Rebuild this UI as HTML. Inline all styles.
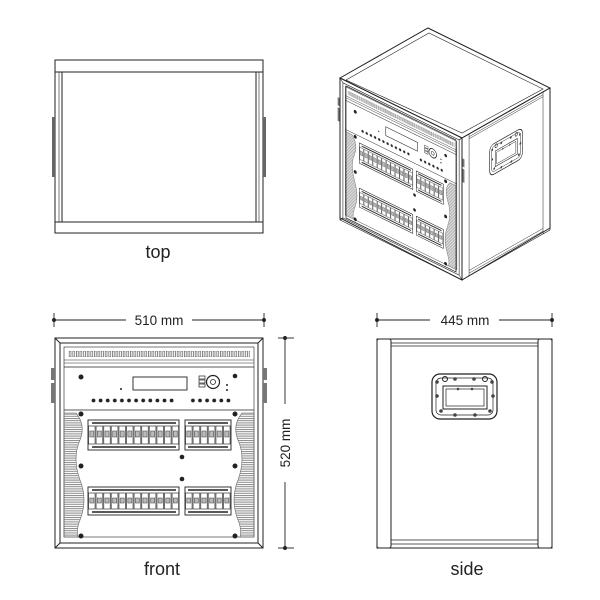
<!DOCTYPE html>
<html><head><meta charset="utf-8"><style>
html,body{margin:0;padding:0;background:#fff;}
svg{display:block;}
text{font-family:"Liberation Sans",sans-serif;fill:#222;}
</style></head><body>
<svg width="600" height="600" viewBox="0 0 600 600" xmlns="http://www.w3.org/2000/svg">
<defs>
 <pattern id="slot" x="0" y="351" width="3.6" height="10" patternUnits="userSpaceOnUse">
  <rect x="0.8" y="0" width="1.8" height="6" fill="none" stroke="#444" stroke-width="0.6"/>
 </pattern>
 <pattern id="dot" x="90" y="397" width="7.1" height="10" patternUnits="userSpaceOnUse">
  <circle cx="3.5" cy="3.5" r="1.9" fill="#222"/>
 </pattern>
 <pattern id="hatch" x="0" y="0" width="4" height="2.2" patternUnits="userSpaceOnUse">
  <rect x="0" y="0" width="4" height="1" fill="#888"/>
 </pattern>
 <pattern id="brkA" x="88" y="420" width="7.6" height="40" patternUnits="userSpaceOnUse">
  <rect x="0.5" y="6" width="6.6" height="18" fill="none" stroke="#333" stroke-width="0.7"/>
  <rect x="1.8" y="11" width="4" height="6" fill="#bbb" stroke="#333" stroke-width="0.5"/>
 </pattern>
 <pattern id="brkB" x="185" y="420" width="7.6" height="40" patternUnits="userSpaceOnUse">
  <rect x="0.5" y="6" width="6.6" height="18" fill="none" stroke="#333" stroke-width="0.7"/>
  <rect x="1.8" y="11" width="4" height="6" fill="#bbb" stroke="#333" stroke-width="0.5"/>
 </pattern>
 <pattern id="brkC" x="88" y="487" width="7.6" height="40" patternUnits="userSpaceOnUse">
  <rect x="0.5" y="6" width="6.6" height="16" fill="none" stroke="#333" stroke-width="0.7"/>
  <rect x="1.8" y="11" width="4" height="5" fill="#bbb" stroke="#333" stroke-width="0.5"/>
 </pattern>
 <pattern id="brkD" x="185" y="487" width="7.6" height="40" patternUnits="userSpaceOnUse">
  <rect x="0.5" y="6" width="6.6" height="16" fill="none" stroke="#333" stroke-width="0.7"/>
  <rect x="1.8" y="11" width="4" height="5" fill="#bbb" stroke="#333" stroke-width="0.5"/>
 </pattern>
 <g id="frontv" stroke="#222" fill="none" stroke-width="1">
  <rect x="55" y="338" width="208" height="210" fill="#fff"/>
  <rect x="60" y="343" width="198" height="200"/>
  <line x1="55" y1="338" x2="60" y2="343"/><line x1="263" y1="338" x2="258" y2="343"/>
  <line x1="55" y1="548" x2="60" y2="543"/><line x1="263" y1="548" x2="258" y2="543"/>
  <rect x="64" y="347" width="190" height="190" stroke-width="0.6"/>
  <rect x="68" y="351" width="182" height="6" fill="url(#slot)" stroke="none"/>
  <line x1="64" y1="360" x2="254" y2="360" stroke-width="0.6"/>
  <line x1="64" y1="363" x2="254" y2="363" stroke-width="0.6"/>
  <line x1="64" y1="367" x2="254" y2="367" stroke-width="0.8"/>
  <line x1="64" y1="410" x2="254" y2="410" stroke-width="0.8"/>
  <rect x="133" y="377" width="54" height="13" stroke-width="0.9"/>
  <circle cx="213" cy="382" r="6.5" stroke-width="1.2"/>
  <circle cx="213" cy="382" r="2.5" stroke-width="0.8"/>
  <rect x="199" y="376" width="6" height="3" stroke-width="0.7"/>
  <rect x="199" y="380" width="6" height="3" stroke-width="0.7"/>
  <rect x="199" y="384" width="6" height="3" stroke-width="0.7"/>
  <g fill="#222" stroke="none">
   <circle cx="81" cy="377" r="2.5"/><circle cx="235" cy="376" r="2.3"/>
   <circle cx="121" cy="389" r="1"/><circle cx="227" cy="385" r="1"/><circle cx="227" cy="390" r="1"/>
   <circle cx="81" cy="414" r="2.5"/><circle cx="235" cy="414" r="2.5"/>
   <circle cx="81" cy="466" r="2.5"/><circle cx="235" cy="466" r="2.5"/>
   <circle cx="81" cy="536" r="2.5"/><circle cx="235" cy="536" r="2.5"/>
   <circle cx="182" cy="457" r="2.3"/><circle cx="182" cy="479" r="2.3"/>
  </g>
  <rect x="90" y="397" width="85" height="7" fill="url(#dot)" stroke="none"/>
  <rect x="190" y="397" width="43" height="7" fill="url(#dot)" stroke="none"/>
  <path d="M64,413 H76 Q86,425 80,440 Q72,458 80,480 Q88,500 80,520 Q76,530 78,537 H64 Z" fill="url(#hatch)" stroke="#666" stroke-width="0.6"/>
  <path d="M254,413 H242 Q232,425 238,440 Q246,458 238,480 Q230,500 238,520 Q242,530 240,537 H254 Z" fill="url(#hatch)" stroke="#666" stroke-width="0.6"/>
  <g stroke-width="0.9">
   <rect x="88" y="420" width="91" height="30" fill="url(#brkA)"/>
   <rect x="185" y="420" width="46" height="30" fill="url(#brkB)"/>
   <rect x="88" y="487" width="91" height="28" fill="url(#brkC)"/>
   <rect x="185" y="487" width="46" height="28" fill="url(#brkD)"/>
   <line x1="92" y1="423" x2="176" y2="423" stroke-width="1.5"/>
   <line x1="92" y1="447" x2="176" y2="447" stroke-width="1.5"/>
   <line x1="188" y1="423" x2="228" y2="423" stroke-width="1.5"/>
   <line x1="188" y1="447" x2="228" y2="447" stroke-width="1.5"/>
   <line x1="92" y1="490" x2="176" y2="490" stroke-width="1.5"/>
   <line x1="92" y1="512" x2="176" y2="512" stroke-width="1.5"/>
   <line x1="188" y1="490" x2="228" y2="490" stroke-width="1.5"/>
   <line x1="188" y1="512" x2="228" y2="512" stroke-width="1.5"/>
  </g>
  <rect x="51" y="368" width="4" height="12" fill="#777" stroke="none"/>
  <rect x="51" y="383" width="4" height="20" fill="#777" stroke="none"/>
  <rect x="263" y="368" width="4" height="12" fill="#777" stroke="none"/>
  <rect x="263" y="383" width="4" height="20" fill="#777" stroke="none"/>
 </g>
 <g id="sidev" stroke="#222" fill="none" stroke-width="1">
  <rect x="377" y="339" width="175" height="209" fill="#fff"/>
  <rect x="377" y="339" width="14" height="209" rx="2" fill="#fff"/>
  <rect x="538" y="339" width="14" height="209" rx="2" fill="#fff"/>
  <line x1="391" y1="343" x2="538" y2="343" stroke-width="0.7"/>
  <line x1="391" y1="346" x2="538" y2="346" stroke-width="0.7"/>
  <line x1="391" y1="540" x2="538" y2="540" stroke-width="0.7"/>
  <line x1="391" y1="544" x2="538" y2="544" stroke-width="0.7"/>
  <rect x="432" y="374" width="65" height="45" rx="8" stroke-width="1.2"/>
  <rect x="436" y="378" width="57" height="37" rx="5" stroke-width="0.7"/>
  <rect x="443" y="386" width="44" height="23" stroke-width="1"/>
  <rect x="446" y="389" width="38" height="17" stroke-width="0.7"/>
  <circle cx="445" cy="379" r="2.5" stroke-width="1"/><circle cx="485" cy="379" r="2.5" stroke-width="1"/>
  <g fill="#444" stroke="none">
   <circle cx="455" cy="379" r="1.8"/><circle cx="474" cy="379" r="1.8"/>
   <circle cx="437" cy="382" r="1.8"/><circle cx="492" cy="382" r="1.8"/>
   <circle cx="437" cy="396" r="1.8"/><circle cx="493" cy="396" r="1.8"/>
   <circle cx="441" cy="411" r="1.8"/><circle cx="490" cy="411" r="1.8"/>
   <circle cx="455" cy="415" r="1.8"/><circle cx="475" cy="415" r="1.8"/>
   <circle cx="458" cy="389" r="1.3"/><circle cx="472" cy="389" r="1.3"/>
  </g>
 </g>
</defs>

<!-- top view -->
<g stroke="#222" fill="none" stroke-width="1">
 <rect x="55" y="60" width="208" height="173"/>
 <line x1="55" y1="72" x2="263" y2="72"/>
 <line x1="55" y1="222" x2="263" y2="222"/>
 <line x1="62" y1="72" x2="62" y2="222"/><line x1="59" y1="72" x2="59" y2="222" stroke-width="0.6"/>
 <line x1="256" y1="72" x2="256" y2="222"/><line x1="259" y1="72" x2="259" y2="222" stroke-width="0.6"/>
 <rect x="52" y="117" width="3" height="60" fill="#666" stroke="none"/>
 <rect x="263" y="117" width="3" height="60" fill="#666" stroke="none"/>
</g>
<text x="158" y="258" font-size="18" text-anchor="middle">top</text>

<!-- isometric -->
<g stroke="#222" fill="#fff" stroke-width="1">
 <polygon points="340,78 428,28 550,88 462,138"/>
 <polygon points="346,80 429,33 543,89 462,133" fill="none" stroke-width="0.6"/>
</g>
<use href="#sidev" transform="matrix(0.503,-0.2857,0,0.679,272.4,15.5)"/>
<use href="#frontv" transform="matrix(0.587,0.2885,0,0.676,307.7,-166.4)"/>
<g stroke="#222" fill="none" stroke-width="1">
 <polygon points="340,78 462,138 462,280 340,218"/>
 <polygon points="346,86 456,140 456,272 346,218" stroke-width="0.7"/>
 <line x1="462" y1="138" x2="550" y2="88"/>
 <line x1="550" y1="88" x2="550" y2="228"/>
 <line x1="462" y1="280" x2="550" y2="228"/>
</g>

<!-- front view -->
<use href="#frontv"/>
<text x="162" y="575" font-size="18" text-anchor="middle">front</text>

<!-- side view -->
<use href="#sidev"/>
<text x="467" y="575" font-size="18" text-anchor="middle">side</text>

<!-- dimensions -->
<g stroke="#222" stroke-width="0.9" fill="#222">
 <line x1="54" y1="320" x2="126" y2="320"/><line x1="192" y1="320" x2="264" y2="320"/>
 <line x1="54" y1="313" x2="54" y2="327"/><line x1="264" y1="313" x2="264" y2="327"/>
 <circle cx="54" cy="320" r="1.5"/><circle cx="264" cy="320" r="1.5"/>
 <line x1="377" y1="320" x2="430" y2="320"/><line x1="499" y1="320" x2="552" y2="320"/>
 <line x1="377" y1="313" x2="377" y2="327"/><line x1="552" y1="313" x2="552" y2="327"/>
 <circle cx="377" cy="320" r="1.5"/><circle cx="552" cy="320" r="1.5"/>
 <line x1="285" y1="338" x2="285" y2="404"/><line x1="285" y1="482" x2="285" y2="548"/>
 <line x1="278" y1="338" x2="294" y2="338"/><line x1="278" y1="548" x2="294" y2="548"/>
 <circle cx="285" cy="338" r="1.5"/><circle cx="285" cy="548" r="1.5"/>
</g>
<text x="159" y="325" font-size="13.5" text-anchor="middle">510 mm</text>
<text x="465" y="325" font-size="13.5" text-anchor="middle">445 mm</text>
<text x="0" y="0" font-size="13.5" text-anchor="middle" transform="translate(290,443) rotate(-90)">520 mm</text>
</svg>
</body></html>
